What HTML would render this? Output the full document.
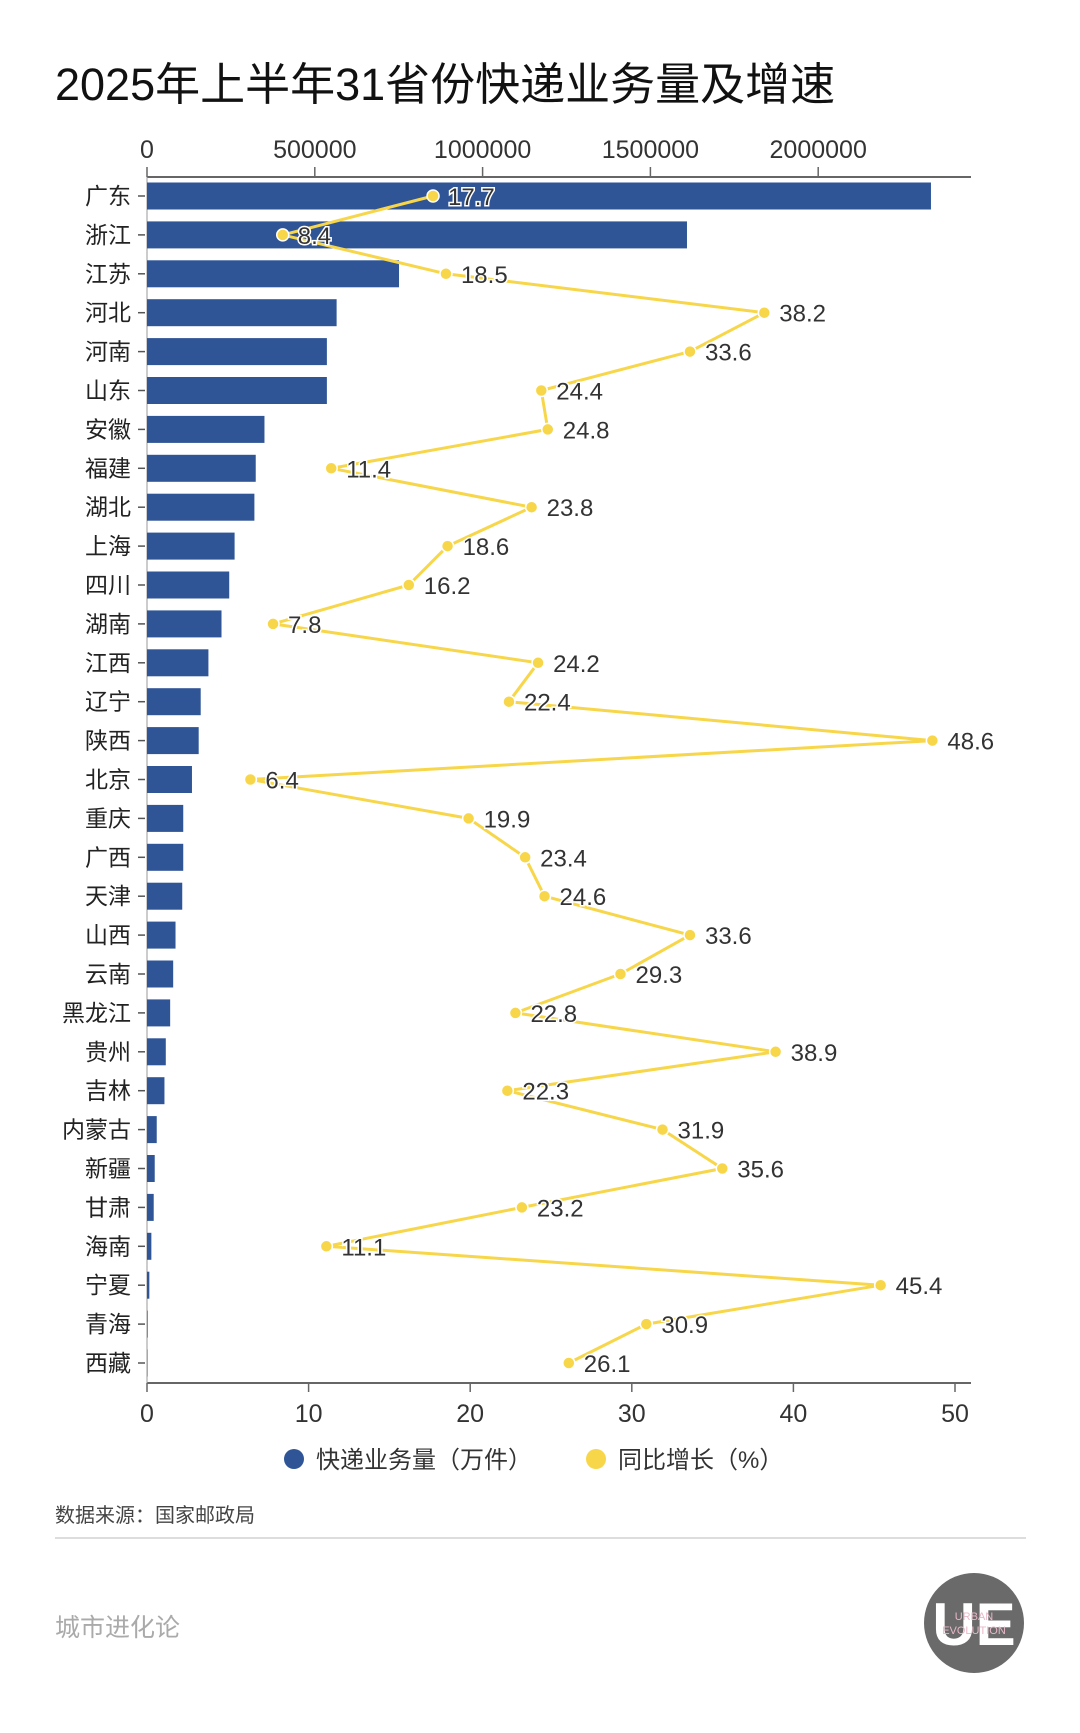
<!DOCTYPE html>
<html><head><meta charset="utf-8"><style>
html,body{margin:0;padding:0;background:#fff;}
body{width:1080px;height:1728px;overflow:hidden;position:relative;font-family:"Liberation Sans","Noto Sans CJK SC",sans-serif;}
svg text{font-family:"Liberation Sans","Noto Sans CJK SC",sans-serif;}
</style></head><body>
<svg id="chart" width="1080" height="1728" viewBox="0 0 1080 1728" xmlns="http://www.w3.org/2000/svg">
<text x="55" y="100" font-size="45" fill="#111" font-family="Noto Sans CJK SC, sans-serif">2025年上半年31省份快递业务量及增速</text>
<g id="axes"></g>
<g id="bars"></g>
<g id="line"></g>
<g>
<circle cx="294" cy="1459" r="10" fill="#2f5597"/>
<text x="316" y="1468" font-size="24" fill="#333">快递业务量（万件）</text>
<circle cx="596" cy="1459" r="10" fill="#f7d64a"/>
<text x="618" y="1468" font-size="24" fill="#333">同比增长（%）</text>
</g>
<text x="55" y="1522" font-size="20" fill="#444">数据来源：国家邮政局</text>
<line x1="55" y1="1538" x2="1026" y2="1538" stroke="#ddd" stroke-width="2"/>
<text x="55" y="1636" font-size="25" fill="#aaa">城市进化论</text>
<g>
<circle cx="974" cy="1623" r="50" fill="#6a6a6a"/>
<text x="974" y="1645" font-size="60" fill="#fff" text-anchor="middle" font-weight="bold">UE</text>
<text x="974" y="1620" font-size="11" fill="#e8b8c8" text-anchor="middle">URBAN</text>
<text x="974" y="1634" font-size="11" fill="#e8b8c8" text-anchor="middle">EVOLUTION</text>
</g>
</svg>
<script>
const provinces=["广东","浙江","江苏","河北","河南","山东","安徽","福建","湖北","上海","四川","湖南","江西","辽宁","陕西","北京","重庆","广西","天津","山西","云南","黑龙江","贵州","吉林","内蒙古","新疆","甘肃","海南","宁夏","青海","西藏"];
const volume=[2336000,1609000,751000,565000,536000,536000,350000,324000,320000,261000,245000,222000,183000,160000,154000,134000,108000,108000,105000,85000,78000,69000,56000,52000,29000,23000,20000,13000,7000,2000,1000];
const growth=[17.7,8.4,18.5,38.2,33.6,24.4,24.8,11.4,23.8,18.6,16.2,7.8,24.2,22.4,48.6,6.4,19.9,23.4,24.6,33.6,29.3,22.8,38.9,22.3,31.9,35.6,23.2,11.1,45.4,30.9,26.1];
const topTicks=[0,500000,1000000,1500000,2000000];
const bottomTicks=[0,10,20,30,40,50];
const NS="http://www.w3.org/2000/svg";
const X0=147;
const xv=v=>X0+v*(167.8/500000);
const xg=g=>X0+g*16.16;
const yr=i=>196+i*38.9;
function mk(tag,attrs,parent,txt){const e=document.createElementNS(NS,tag);for(const k in attrs)e.setAttribute(k,attrs[k]);if(txt!==undefined)e.textContent=txt;parent.appendChild(e);return e;}
const axes=document.getElementById('axes');
let e;
e=mk('line',{x1:X0,y1:177,x2:971,y2:177,stroke:'#666','stroke-width':2},axes);


e=mk('line',{x1:X0,y1:1383,x2:971,y2:1383,stroke:'#666','stroke-width':2},axes);


e=mk('line',{x1:X0,y1:177,x2:X0,y2:1383,stroke:'#999','stroke-width':1},axes);


topTicks.forEach(t=>{
  mk('line',{x1:xv(t),y1:167,x2:xv(t),y2:177,stroke:'#666','stroke-width':1.5},axes);
  e=mk('text',{x:xv(t),y:158,'font-size':25,fill:'#333','text-anchor':'middle'},axes,String(t));
  
  
});
bottomTicks.forEach(t=>{
  mk('line',{x1:xg(t),y1:1383,x2:xg(t),y2:1392,stroke:'#666','stroke-width':1.5},axes);
  e=mk('text',{x:xg(t),y:1422,'font-size':25,fill:'#333','text-anchor':'middle'},axes,String(t));
  
  
});
const bars=document.getElementById('bars');
provinces.forEach((p,i)=>{
  const y=yr(i);
  e=mk('rect',{x:X0,y:y-13.5,width:Math.max(0.5,xv(volume[i])-X0),height:27,fill:'#2f5597'},bars);
  
  
  mk('line',{x1:138,y1:y,x2:145,y2:y,stroke:'#555','stroke-width':1.5},axes);
  e=mk('text',{x:131,y:y+8,'font-size':23,fill:'#222','text-anchor':'end'},axes,p);
  
  
});
const lg=document.getElementById('line');
const pts=growth.map((g,i)=>xg(g)+','+yr(i)).join(' ');
e=mk('polyline',{points:pts,fill:'none',stroke:'#f7d64a','stroke-width':3,'stroke-linejoin':'round'},lg);


growth.forEach((g,i)=>{
  e=mk('circle',{cx:xg(g),cy:yr(i),r:6,fill:'#f7d64a',stroke:'#fff','stroke-width':1.5},lg);
  
  
  e=mk('text',{x:xg(g)+15,y:yr(i)+9,'font-size':24,fill:'#333',stroke:'#fff','stroke-width':3,'paint-order':'stroke'},lg,g.toFixed(1));
  
  
});
</script>
</body></html>
